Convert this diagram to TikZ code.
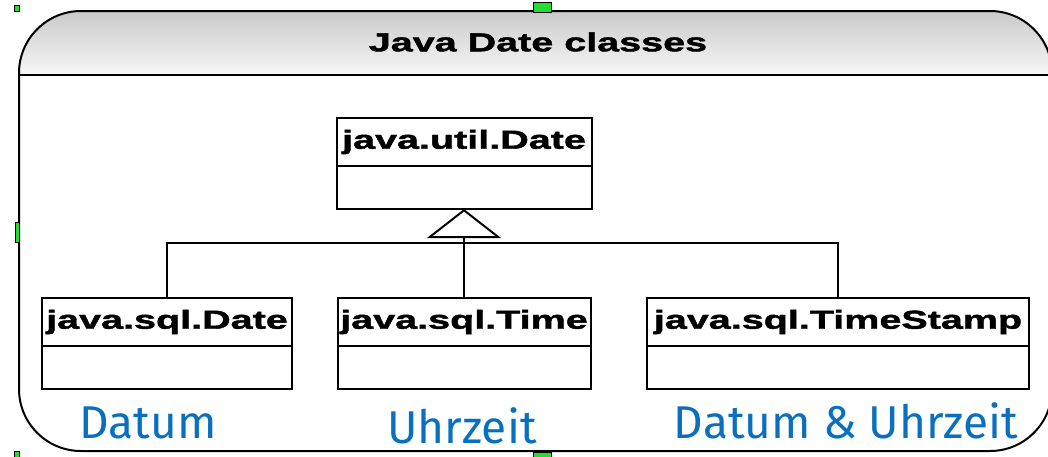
\documentclass[tikz,border=0pt]{standalone}
\usepackage{fontspec}
\newfontfamily\umlfont{Liberation Sans}[FakeStretch=1.52, BoldFeatures={FakeBold=1.6}]
\newfontfamily\labfont{Fira Sans}
\definecolor{dateBlue}{HTML}{0A6FBF}
\definecolor{handleGreen}{HTML}{22DD33}
\usepackage{tikz}
\usetikzlibrary{
	arrows.meta,
	positioning
}
\tikzset{
	classhead/.style={draw, line width=2pt, inner sep=0pt, outer sep=0pt, minimum height=48pt,
		font=\umlfont\bfseries\fontsize{26}{26}\selectfont},
	classbody/.style={draw, line width=2pt, inner sep=0pt, outer sep=0pt, minimum height=43pt},
	bluelabel/.style={anchor=base, text=dateBlue, font=\labfont\fontsize{46}{46}\selectfont},
	handle/.style={fill=handleGreen, draw=black, line width=0.6pt}
}

\begin{document}
\begin{tikzpicture}[x=1pt, y=-1pt]
		\useasboundingbox (0,0) rectangle (1048,456);
		% package frame with shaded title bar
		\begin{scope}
			\clip[rounded corners=62pt] (19,11) rectangle (1052,451);
			\shade[top color=black!21, bottom color=black!3] (19,11) rectangle (1052,75);
		\end{scope}
		\draw[line width=2pt, rounded corners=62pt] (19,11) rectangle (1052,451);
		\draw[line width=2pt] (19,75) -- (1052,75);
		\node[font=\umlfont\bfseries\fontsize{26}{26}\selectfont] (title) at (538,42) {Java Date classes};
		% classes: name compartment + empty body
		\foreach \nm/\x/\y/\w/\lab in {udate/464/142/255/java.util.Date, sdate/167/322/250/java.sql.Date,
				stime/464/322/253/java.sql.Time, stamp/838/322/382/java.sql.TimeStamp}{
			\node[classhead, minimum width=\w pt] (\nm) at (\x,\y) {\lab};
			\node[classbody, minimum width=\w pt, below=0pt of \nm] (\nm b) {};
		}
		% inheritance
		\coordinate (split) at (464,243);
		\draw[line width=2pt, -{Triangle[open, length=29pt, width=74pt, line width=2pt]}] (stime.north) -- (udateb.south);
		\draw[line width=2pt] (sdate.north) |- (split) -| (stamp.north);
		% labels under the classes
		\node[bluelabel] (lDatum) at (148,438) {Datum};
		\node[bluelabel] (lUhrzeit) at (462,443) {Uhrzeit};
		\node[bluelabel] (lBoth) at (846,438) {Datum \& Uhrzeit};
		% selection handles
		\fill[handle] (15,222) rectangle (19,242);
		\fill[handle] (533,2) rectangle (551,12);
		\fill[handle] (533,452) rectangle (551,460);
		\fill[handle] (14,5) rectangle (19,11);
		\fill[handle] (14,451) rectangle (19,458);
	\end{tikzpicture}
\end{document}
